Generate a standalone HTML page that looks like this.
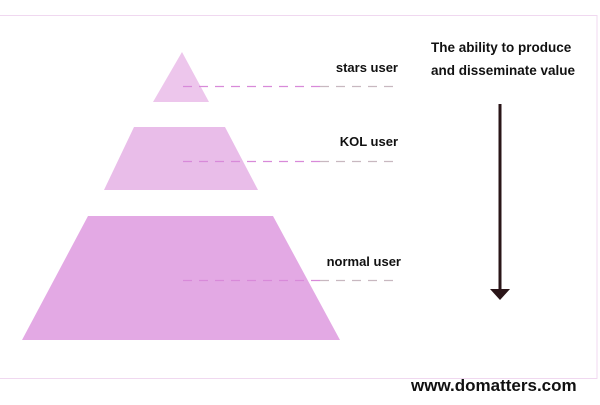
<!DOCTYPE html>
<html><head><style>
body{margin:0;width:600px;height:400px;background:#fff;overflow:hidden;font-family:"Liberation Sans Narrow","Liberation Sans",sans-serif;}
</style></head><body>
<svg width="600" height="400" xmlns="http://www.w3.org/2000/svg">
<rect x="-2" y="15.5" width="599" height="363" fill="none" stroke="#f0d8f0" stroke-width="1"/>
<polygon points="182,52 209,102 153,102" fill="#edc6ec"/>
<polygon points="134,127 225,127 258,190 104,190" fill="#e9bde9"/>
<polygon points="88,216 273,216 340,340 22,340" fill="#e3a9e4"/>
<g stroke-width="1.2" stroke-dasharray="9,7">
<line x1="183" y1="86.5" x2="320" y2="86.5" stroke="#d88ad9"/>
<line x1="320" y1="86.5" x2="398" y2="86.5" stroke="#c8b8c0"/>
<line x1="183" y1="161.5" x2="320" y2="161.5" stroke="#d88ad9"/>
<line x1="320" y1="161.5" x2="398" y2="161.5" stroke="#c8b8c0"/>
<line x1="183" y1="280.5" x2="320" y2="280.5" stroke="#d88ad9"/>
<line x1="320" y1="280.5" x2="398" y2="280.5" stroke="#c8b8c0"/>
</g>
<g font-weight="bold" font-size="13" fill="#111" text-anchor="end" font-family="Liberation Sans Narrow, Liberation Sans, sans-serif">
<text x="398" y="72">stars user</text>
<text x="398" y="146">KOL user</text>
<text x="401" y="266">normal user</text>
</g>
<g font-weight="bold" font-size="13.5" fill="#111" font-family="Liberation Sans Narrow, Liberation Sans, sans-serif">
<text x="431" y="52">The ability to produce</text>
<text x="431" y="75">and disseminate value</text>
<text x="411" y="391" font-size="17">www.domatters.com</text>
</g>
<line x1="500" y1="104" x2="500" y2="292" stroke="#2a1518" stroke-width="3"/>
<polygon points="490,289 510,289 500,300" fill="#2a1518"/>
</svg>
</body></html>
